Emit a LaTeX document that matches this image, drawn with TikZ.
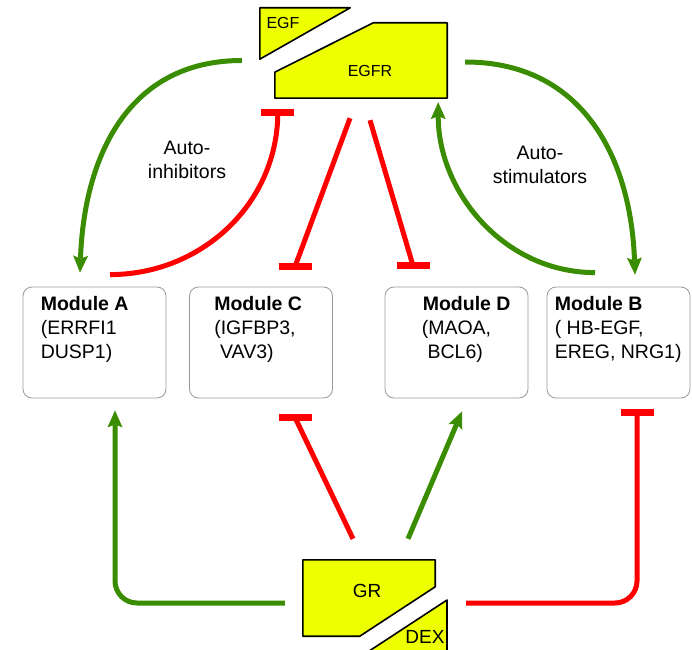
\documentclass[tikz,border=0pt]{standalone}
\usepackage{fontspec}
\setmainfont{Liberation Sans}
\usetikzlibrary{arrows.meta}
\definecolor{actgreen}{RGB}{58,140,0}
\definecolor{inhred}{RGB}{255,0,0}
\definecolor{recyellow}{RGB}{238,255,0}
\begin{document}
\begin{tikzpicture}[x=1pt, y=1pt, line join=round,
    module/.style={draw=black!40, rounded corners=9pt, minimum width=143pt, minimum height=111pt, inner sep=0pt, line width=0.8pt},
    modtext/.style={anchor=north west, inner sep=0pt, align=left, font=\fontsize{19.5}{24}\selectfont},
    rec/.style={draw=black, fill=recyellow, line width=1.6pt},
    recbox/.style={inner sep=0pt},
    act/.style={draw=actgreen, line width=5pt, -{Stealth[width=15pt,length=17pt,inset=3pt,line width=0pt]}},
    inh/.style={draw=inhred, line width=5pt},
    tbar/.style={draw=inhred, line width=7pt},
    lbl/.style={font=\fontsize{19.5}{24}\selectfont, align=center}]
  \useasboundingbox (0,0) rectangle (692,649);

  % EGF / EGFR
  \node[recbox, minimum width=90pt, minimum height=51pt] (egfbox) at (305,615.5) {};
  \node[recbox, minimum width=172pt, minimum height=75pt] (egfrbox) at (361,588.5) {};
  \path[rec] (egfbox.north west) -- (egfbox.north east) -- (egfbox.south west) -- cycle;
  \path[rec] (egfrbox.south west) -- ++(0,26) -- ([xshift=-74pt]egfrbox.north east) -- (egfrbox.north east) -- (egfrbox.south east) -- cycle;
  \node[font=\fontsize{16}{16}\selectfont] (egf) at (283,626) {EGF};
  \node[font=\fontsize{16}{16}\selectfont] (egfr) at (370,578) {EGFR};

  % GR / DEX
  \node[recbox, minimum width=132pt, minimum height=76pt] (grbox) at (369,51) {};
  \path[rec] (grbox.south west) -- (grbox.north west) -- (grbox.north east) -- ([yshift=-27pt]grbox.north east) -- ([xshift=57pt]grbox.south west) -- cycle;
  \begin{scope}
    \clip (0,0) rectangle (692,649);
    \path[rec] (447,49) -- (447,-10) -- (357,-10) -- cycle;
  \end{scope}
  \node[font=\fontsize{19}{19}\selectfont] (gr) at (367,58) {GR};
  \node[font=\fontsize{19}{19}\selectfont] (dex) at (425,12) {DEX};

  % modules
  \node[module] (modA) at (94.5,306.5) {};
  \node[module] (modC) at (261,306.5) {};
  \node[module] (modD) at (456.5,306.5) {};
  \node[module] (modB) at (618.5,306.5) {};
  \node[modtext] (txtA) at ([xshift=18pt,yshift=-10pt]modA.north west) {\textbf{Module A}\\(ERRFI1\\DUSP1)};
  \node[modtext] (txtC) at ([xshift=25pt,yshift=-10pt]modC.north west) {\textbf{Module C}\\(IGFBP3,\\\hspace*{.3em}VAV3)};
  \node[modtext] (txtD) at ([xshift=37pt,yshift=-10pt]modD.north west) {\hspace*{1pt}\textbf{Module D}\\(MAOA,\\\hspace*{.3em}BCL6)};
  \node[modtext] (txtB) at ([xshift=8pt,yshift=-10pt]modB.north west) {\textbf{Module B}\\( HB-EGF,\\EREG, NRG1)};

  \node[lbl] (inhlbl) at (187,489) {Auto-\\inhibitors};
  \node[lbl] (stimlbl) at (540,484) {Auto-\\stimulators};

  % bar ends of the inhibitions
  \coordinate (tE) at ([xshift=3pt,yshift=-14pt]egfrbox.south west);
  \coordinate (tCn) at ([xshift=34pt,yshift=20pt]modC.north);
  \coordinate (tDn) at ([xshift=-43.5pt,yshift=21pt]modD.north);
  \coordinate (tCs) at ([xshift=34pt,yshift=-19pt]modC.south);
  \coordinate (tBs) at ([xshift=18.5pt,yshift=-14pt]modB.south);

  % EGFR loops
  \draw[act] ([xshift=-33pt]egfrbox.west) to[out=180,in=88,looseness=1.1] ([xshift=-14.5pt,yshift=14pt]modA.north);
  \draw[inh] ([xshift=15.5pt,yshift=12pt]modA.north) to[out=0,in=-90] (tE);
  \draw[inh] ([xshift=-11pt,yshift=-20pt]egfrbox.south) -- (tCn);
  \draw[inh] ([xshift=9pt,yshift=-22pt]egfrbox.south) -- (tDn);
  \draw[act] ([xshift=-23.5pt,yshift=14pt]modB.north) to[out=180,in=-90] ([xshift=-9pt,yshift=-4pt]egfrbox.south east);
  \draw[act] ([xshift=18pt,yshift=-1.5pt]egfrbox.east) to[out=0,in=92,looseness=1.1] ([xshift=16.5pt,yshift=12pt]modB.north);

  % GR targets
  \draw[act, rounded corners=22pt] ([xshift=-18pt,yshift=-5pt]grbox.west) -| ([xshift=20.5pt,yshift=-12pt]modA.south);
  \draw[inh] ([xshift=-16pt,yshift=21pt]grbox.north) -- (tCs);
  \draw[act] ([xshift=39pt,yshift=21pt]grbox.north) -- ([xshift=5.5pt,yshift=-13pt]modD.south);
  \draw[inh, rounded corners=22pt] ([xshift=31pt,yshift=-5pt]grbox.east) -| (tBs);

  \foreach \t in {tE,tCn,tDn,tCs,tBs}
    \draw[tbar] ([xshift=-16.5pt]\t) -- ([xshift=16.5pt]\t);
\end{tikzpicture}
\end{document}
